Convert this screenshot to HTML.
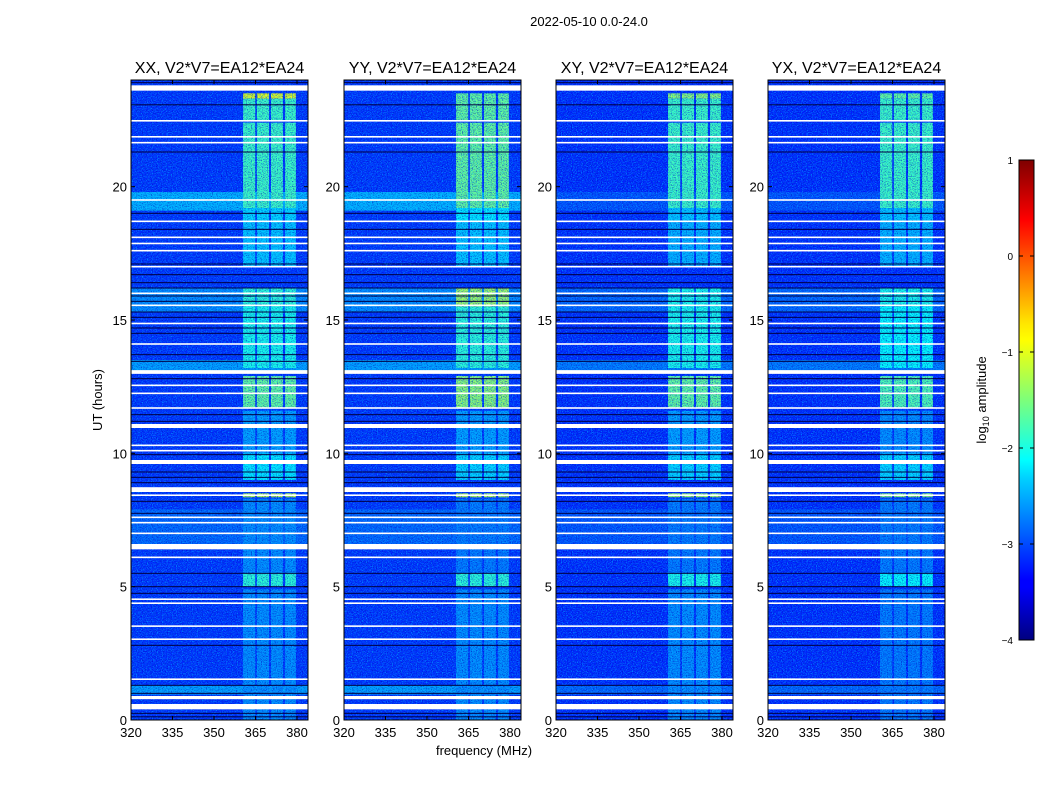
<!DOCTYPE html>
<html><head><meta charset="utf-8">
<style>
body{margin:0;background:#fff;width:1050px;height:800px;overflow:hidden;font-family:"Liberation Sans",sans-serif}
svg text{font-family:"Liberation Sans","DejaVu Sans",sans-serif;fill:#000}
</style></head>
<body>
<svg id="fig" width="1050" height="800" viewBox="0 0 1050 800">
<defs>
<linearGradient id="jet" x1="0" y1="1" x2="0" y2="0">
<stop offset="0" stop-color="#00007f"/><stop offset="0.11" stop-color="#0000ff"/><stop offset="0.125" stop-color="#0000ff"/>
<stop offset="0.34" stop-color="#00d4ff"/><stop offset="0.375" stop-color="#00ffff"/><stop offset="0.5" stop-color="#7dff7a"/>
<stop offset="0.625" stop-color="#ffff00"/><stop offset="0.66" stop-color="#ffe600"/><stop offset="0.875" stop-color="#ff0000"/><stop offset="1" stop-color="#7f0000"/>
</linearGradient>
<filter id="speckL" x="0" y="0" width="100%" height="100%"><feTurbulence type="fractalNoise" baseFrequency="0.8 1.2" numOctaves="1" seed="3"/><feColorMatrix type="matrix" values="0 0 0 0 0  0 0 0 0 0.55  0 0 0 0 1  2.2 0 0 0 -1.0"/></filter>
<filter id="speckD" x="0" y="0" width="100%" height="100%"><feTurbulence type="fractalNoise" baseFrequency="0.8 1.2" numOctaves="1" seed="11"/><feColorMatrix type="matrix" values="0 0 0 0 0  0 0 0 0 0  0 0 0 0 0.5  2.2 0 0 0 -1.05"/></filter>
</defs>
<text x="589" y="26" font-size="13" text-anchor="middle">2022-05-10 0.0-24.0</text>
<text x="484" y="755" font-size="13" text-anchor="middle">frequency (MHz)</text>
<text transform="translate(102,400) rotate(-90)" font-size="13" text-anchor="middle">UT (hours)</text>
<g id="panels"></g>
<g>
<rect x="1019" y="160" width="15" height="480" fill="url(#jet)" stroke="#000" stroke-width="1"/>
<g id="cbticks"></g>
<text transform="translate(986,400) rotate(-90)" font-size="13" text-anchor="middle">log<tspan font-size="9" dy="3">10</tspan><tspan dy="-3"> amplitude</tspan></text>
</g>
</svg>
<script>
const panelNames=["XX, V2*V7=EA12*EA24","YY, V2*V7=EA12*EA24","XY, V2*V7=EA12*EA24","YX, V2*V7=EA12*EA24"];
const panelLeft=[131,344,556,768];
const xTicks=[320,335,350,365,380];
const yTicks=[0,5,10,15,20];
const cbTicks=[1,0,-1,-2,-3,-4];
const bgLevel=[-3.15,-3.15,-3.2,-3.2];
// RFI frequency bands (MHz)
const bandStart=[360.5,365.5,370.6,375.7];
const bandEnd=[364.9,369.9,374.9,379.6];
// time segments with RFI levels per panel [t0,t1,XX,YY,XY,YX]
const rfiSeg=[
[23.3,23.5,-1.0,-1.6,-1.4,-1.6],[22.5,23.3,-1.8,-1.6,-1.8,-1.8],[19.2,22.4,-1.8,-1.6,-1.8,-1.8],
[18.7,19.2,-2.3,-2.2,-2.4,-2.4],[17.0,18.7,-2.4,-2.4,-2.5,-2.5],[15.5,16.2,-1.9,-1.3,-2.0,-2.0],
[13.2,15.5,-2.0,-1.9,-2.0,-2.1],[11.7,12.9,-1.6,-1.4,-1.6,-1.7],[9.0,10.0,-2.2,-2.3,-2.3,-2.3],
[8.35,8.5,-1.2,-1.2,-1.3,-1.4],[5.0,5.5,-1.9,-1.9,-2.0,-2.1],[0,4.9,-2.7,-2.7,-2.7,-2.8],
[5.5,8.3,-2.7,-2.8,-2.8,-2.8],[10.0,11.6,-2.6,-2.6,-2.6,-2.7]];
// brighter background segments [t0,t1,XX,YY,XY,YX]
const bgSeg=[[19.1,19.8,-2.5,-2.5,-3.0,-3.0],[15.3,16.2,-2.7,-2.7,-2.9,-2.9],[13.1,13.5,-2.6,-2.6,-2.8,-2.8],[6.5,7.9,-2.9,-2.9,-3.0,-3.0],[0.95,1.3,-2.6,-2.6,-2.9,-2.9]];
// flagged (white) intervals (hours)
const flagStart=[23.6,22.45,21.85,21.63,19.48,18.68,18.08,17.85,17.58,16.98,15.98,15.53,14.85,14.08,12.98,12.53,12.23,11.68,10.95,10.28,10.08,9.6,8.55,8.41,7.58,7.38,6.98,6.4,6.08,4.51,4.36,3.5,3.01,1.51,0.78,0.4];
const flagEnd=[23.8,22.5,21.9,21.68,19.53,18.73,18.13,17.9,17.63,17.03,16.03,15.58,14.9,14.13,13.12,12.58,12.28,11.73,11.1,10.33,10.13,9.75,8.73,8.46,7.63,7.43,7.03,6.6,6.13,4.56,4.41,3.55,3.06,1.56,0.9,0.6];
// dead (zero) rows
const deadRows=[23.9,23.07,21.3,19.0,18.4,17.1,16.7,16.4,16.2,15.9,15.7,15.3,15.1,14.7,14.5,13.7,13.45,12.8,11.45,11.2,9.95,9.3,9.1,8.9,8.2,7.75,5.5,5.0,4.75,2.8,1.3,1.0,0.25,0.12];
function jet(v){const x=Math.max(0,Math.min(1,(v+4)/5));const c=t=>Math.round(255*Math.max(0,Math.min(1,1.5-Math.abs(4*x-t))));return `rgb(${c(3)},${c(2)},${c(1)})`;}
const NS="http://www.w3.org/2000/svg";
function mk(tag,attrs,parent){const e=document.createElementNS(NS,tag);for(const k in attrs)e.setAttribute(k,attrs[k]);parent.appendChild(e);return e;}
const PW=177,TOP=80,BOT=720;
const yS=t=>BOT-(t/24)*(BOT-TOP);
const root=document.getElementById('panels');
panelNames.forEach((nm,p)=>{
 const L=panelLeft[p];const xS=f=>L+(f-320)*(41.5/15);
 const g=mk('g',{},root);
 
 
 const bg=mk('rect',{x:L,y:TOP,width:PW,height:BOT-TOP,fill:jet(bgLevel[p])},g);
 
 
 bgSeg.forEach(s=>{const r=mk('rect',{x:L,y:yS(s[1]),width:PW,height:yS(s[0])-yS(s[1]),fill:jet(s[2+p])},g);
  
  });
 rfiSeg.forEach(s=>{bandStart.forEach((b,i)=>{const r=mk('rect',{x:xS(b),y:yS(s[1]),width:xS(bandEnd[i])-xS(b),height:yS(s[0])-yS(s[1]),fill:jet(s[2+p])},g);
  
  });});
 mk('rect',{x:L,y:TOP,width:PW,height:BOT-TOP,fill:'#000',filter:'url(#speckL)'},g);
 mk('rect',{x:L,y:TOP,width:PW,height:BOT-TOP,fill:'#000',filter:'url(#speckD)'},g);
 deadRows.forEach(t=>{const r=mk('rect',{x:L,y:yS(t)-0.5,width:PW,height:1,fill:'#000040'},g);
  
  });
 flagStart.forEach((t,i)=>{const h=Math.max(1.6,yS(t)-yS(flagEnd[i]));const r=mk('rect',{x:L,y:yS(flagEnd[i]),width:PW,height:h,fill:'#fff'},g);
  
  });
 mk('rect',{x:L,y:TOP,width:PW,height:BOT-TOP,fill:'none',stroke:'#000','stroke-width':1},g);
 const tt=mk('text',{x:L+PW/2,y:TOP-7,'font-size':16,'text-anchor':'middle'},g);tt.textContent=nm;
 
 
 xTicks.forEach(v=>{const x=xS(v);mk('line',{x1:x,x2:x,y1:BOT,y2:BOT-4,stroke:'#000'},g);mk('line',{x1:x,x2:x,y1:TOP,y2:TOP+4,stroke:'#000'},g);
  const t=mk('text',{x:x,y:BOT+17,'font-size':13,'text-anchor':'middle'},g);t.textContent=v;
  
  });
 yTicks.forEach(v=>{const y=yS(v);mk('line',{x1:L,x2:L+4,y1:y,y2:y,stroke:'#000'},g);mk('line',{x1:L+PW,x2:L+PW-4,y1:y,y2:y,stroke:'#000'},g);
  const t=mk('text',{x:L-4,y:y+5,'font-size':13,'text-anchor':'end'},g);t.textContent=v;
  
  });
});
const cb=document.getElementById('cbticks');
cbTicks.forEach(v=>{const y=640-(v+4)*96;mk('line',{x1:1019,x2:1023,y1:y,y2:y,stroke:'#000'},cb);mk('line',{x1:1034,x2:1030,y1:y,y2:y,stroke:'#000'},cb);
 const t=mk('text',{x:1013,y:y+4,'font-size':10,'text-anchor':'end'},cb);t.textContent=v<0?'\u2212'+(-v):v;
 
 });
</script>
</body></html>
